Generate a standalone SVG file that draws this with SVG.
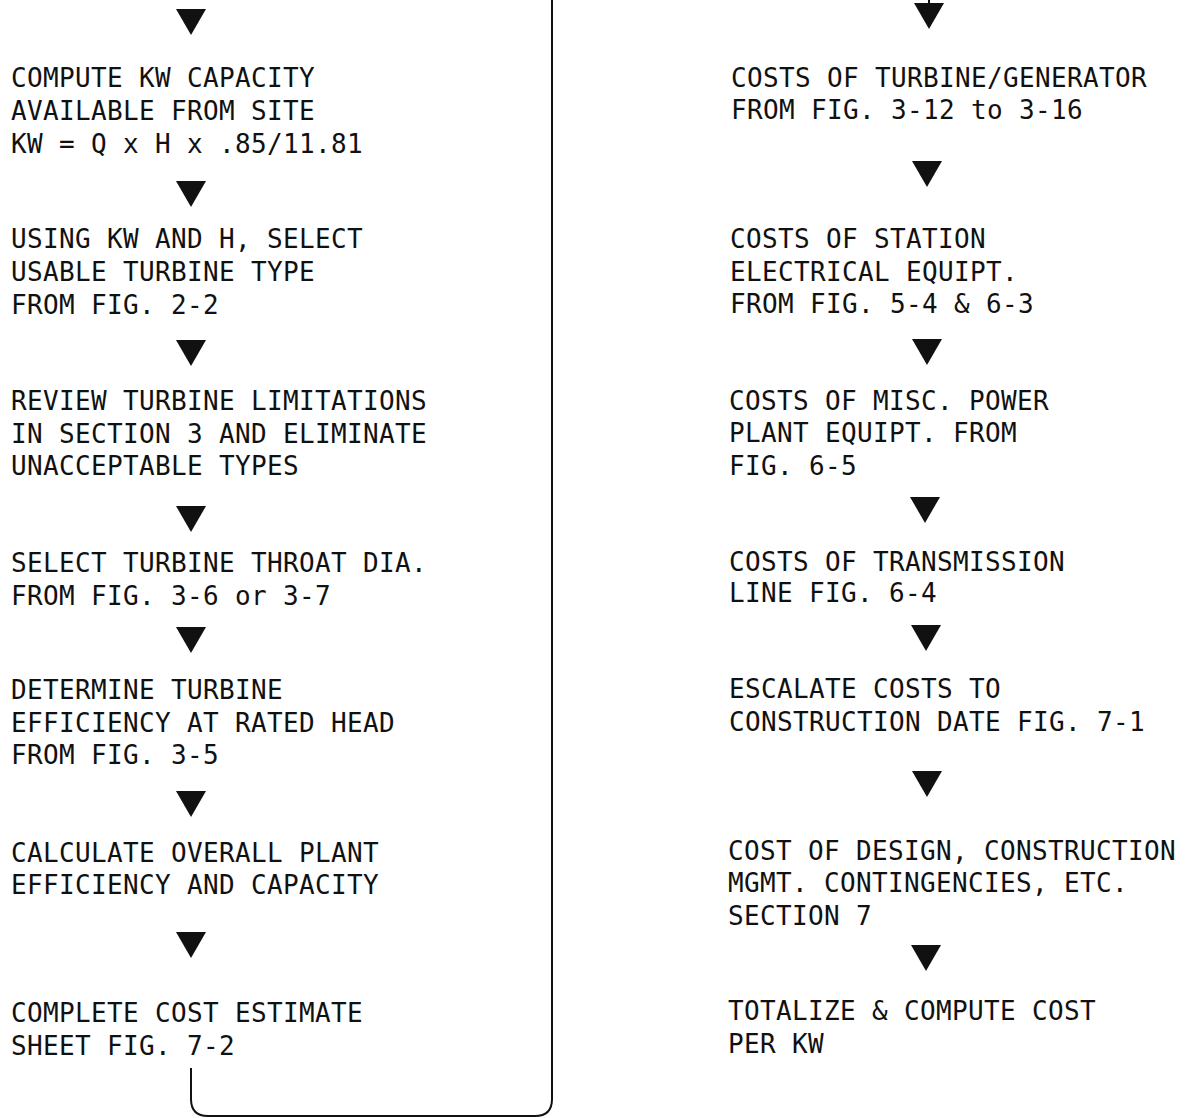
<svg xmlns="http://www.w3.org/2000/svg" width="1188" height="1118" viewBox="0 0 1188 1118">
  <style>
    .t { font-family: "DejaVu Sans Mono", "Liberation Mono", monospace; font-size: 26px; letter-spacing: 0.35px; fill: #111; }
    .ar { fill: #111; }
    .ln { fill: none; stroke: #111; stroke-width: 2; }
  </style>
  <defs>
    <!-- downward flow arrowhead, tip at (0,0) -->
    <polygon id="tri" points="-15,-26 15,-26 0,0"/>
  </defs>
  <rect width="1188" height="1118" fill="#fff"/>

  <g id="connectors">
    <!-- left column arrows -->
    <use href="#tri" class="ar" x="191" y="35"/>
    <use href="#tri" class="ar" x="191" y="207"/>
    <use href="#tri" class="ar" x="191" y="366"/>
    <use href="#tri" class="ar" x="191" y="532"/>
    <use href="#tri" class="ar" x="191" y="653"/>
    <use href="#tri" class="ar" x="191" y="817"/>
    <use href="#tri" class="ar" x="191" y="958"/>
    <!-- return path from cost sheet up to right column -->
    <path class="ln" d="M191,1068 V1099 Q191,1116 208,1116 H535 Q552,1116 552,1099 V0"/>
    <!-- right column arrows -->
    <line class="ln" x1="929" y1="0" x2="929" y2="10"/>
    <use href="#tri" class="ar" x="929" y="29"/>
    <use href="#tri" class="ar" x="927" y="187"/>
    <use href="#tri" class="ar" x="927" y="365"/>
    <use href="#tri" class="ar" x="925" y="523"/>
    <use href="#tri" class="ar" x="926" y="651"/>
    <use href="#tri" class="ar" x="927" y="797"/>
    <use href="#tri" class="ar" x="926" y="971"/>
  </g>

  <g id="compute-kw">
    <text class="t" x="11" y="87">COMPUTE KW CAPACITY</text>
    <text class="t" x="11" y="120">AVAILABLE FROM SITE</text>
    <text class="t" x="11" y="153">KW = Q x H x .85/11.81</text>
  </g>
  <g id="select-type">
    <text class="t" x="11" y="248">USING KW AND H, SELECT</text>
    <text class="t" x="11" y="281">USABLE TURBINE TYPE</text>
    <text class="t" x="11" y="314">FROM FIG. 2-2</text>
  </g>
  <g id="review-limits">
    <text class="t" x="11" y="410">REVIEW TURBINE LIMITATIONS</text>
    <text class="t" x="11" y="443">IN SECTION 3 AND ELIMINATE</text>
    <text class="t" x="11" y="475">UNACCEPTABLE TYPES</text>
  </g>
  <g id="throat-dia">
    <text class="t" x="11" y="572">SELECT TURBINE THROAT DIA.</text>
    <text class="t" x="11" y="605">FROM FIG. 3-6 or 3-7</text>
  </g>
  <g id="turbine-eff">
    <text class="t" x="11" y="699">DETERMINE TURBINE</text>
    <text class="t" x="11" y="732">EFFICIENCY AT RATED HEAD</text>
    <text class="t" x="11" y="764">FROM FIG. 3-5</text>
  </g>
  <g id="plant-eff">
    <text class="t" x="11" y="862">CALCULATE OVERALL PLANT</text>
    <text class="t" x="11" y="894">EFFICIENCY AND CAPACITY</text>
  </g>
  <g id="cost-sheet">
    <text class="t" x="11" y="1022">COMPLETE COST ESTIMATE</text>
    <text class="t" x="11" y="1055">SHEET FIG. 7-2</text>
  </g>

  <g id="turbine-cost">
    <text class="t" x="731" y="87">COSTS OF TURBINE/GENERATOR</text>
    <text class="t" x="731" y="119">FROM FIG. 3-12 to 3-16</text>
  </g>
  <g id="electrical-cost">
    <text class="t" x="730" y="248">COSTS OF STATION</text>
    <text class="t" x="730" y="281">ELECTRICAL EQUIPT.</text>
    <text class="t" x="730" y="313">FROM FIG. 5-4 &amp; 6-3</text>
  </g>
  <g id="misc-cost">
    <text class="t" x="729" y="410">COSTS OF MISC. POWER</text>
    <text class="t" x="729" y="442">PLANT EQUIPT. FROM</text>
    <text class="t" x="729" y="475">FIG. 6-5</text>
  </g>
  <g id="transmission-cost">
    <text class="t" x="729" y="571">COSTS OF TRANSMISSION</text>
    <text class="t" x="729" y="602">LINE FIG. 6-4</text>
  </g>
  <g id="escalate">
    <text class="t" x="729" y="698">ESCALATE COSTS TO</text>
    <text class="t" x="729" y="731">CONSTRUCTION DATE FIG. 7-1</text>
  </g>
  <g id="design-cost">
    <text class="t" x="728" y="860">COST OF DESIGN, CONSTRUCTION</text>
    <text class="t" x="728" y="892">MGMT. CONTINGENCIES, ETC.</text>
    <text class="t" x="728" y="925">SECTION 7</text>
  </g>
  <g id="totalize">
    <text class="t" x="728" y="1020">TOTALIZE &amp; COMPUTE COST</text>
    <text class="t" x="728" y="1053">PER KW</text>
  </g>
</svg>
